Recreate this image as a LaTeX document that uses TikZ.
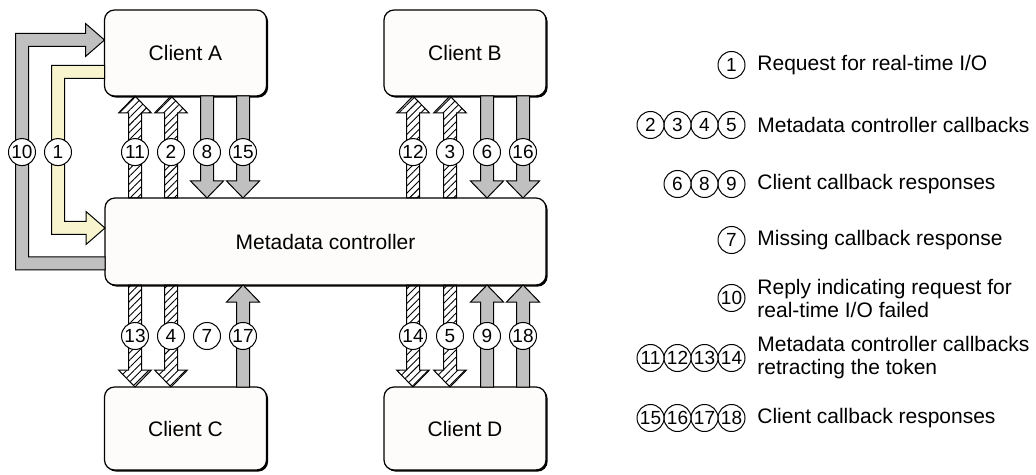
\documentclass[tikz,border=0pt]{standalone}
\usepackage{fontspec}
\setmainfont{Liberation Sans}
\usetikzlibrary{positioning, calc, patterns.meta, shadows}

\definecolor{boxfill}{HTML}{FDFCFA}
\definecolor{arrowgray}{HTML}{C0C0C0}
\definecolor{reqyellow}{HTML}{F7F4CE}

\tikzset{
  box/.style={draw, line width=0.6pt, rounded corners=5pt, fill=boxfill,
    drop shadow={shadow xshift=0.8pt, shadow yshift=-0.8pt, fill=black, opacity=1},
    minimum width=81pt, minimum height=43pt, inner sep=0pt, outer sep=0pt,
    font=\fontsize{10.5}{12}\selectfont},
  num/.style={draw, circle, fill=white, line width=0.5pt, inner sep=0pt, outer sep=0pt,
    minimum size=13.5pt, font=\fontsize{9.5}{9.5}\selectfont},
  legtext/.style={anchor=west, inner sep=0pt, align=left,
    font=\fontsize{10.5}{11.5}\selectfont},
  fatline/.style={draw=black, line width=0.5pt, line join=miter},
  grayarrow/.style={fill=arrowgray},
  hatched/.style={pattern={Lines[angle=45, distance=2.6pt, line width=0.45pt]}},
  yellowarrow/.style={fill=reqyellow},
}

% straight block arrow: #2 base, #3 tip, #4 head offset (17 up, -17 down)
\newcommand{\fatarrow}[4][]{%
  \path[fatline,#1] ($(#2)+(-6.5,0)$) -- ($(#3)+(-6.5,#4)$) -- ($(#3)+(-16.5,#4)$)
    -- (#3) -- ($(#3)+(16.5,#4)$) -- ($(#3)+(6.5,#4)$) -- ($(#2)+(6.5,0)$) -- cycle;}

% bent block arrow round the left side: #2 start, #3 tip, #4 column, #5 = 1 up / -1 down
\newcommand{\bentarrow}[5][]{%
  \path[fatline,#1] ($(#2)+(0,{(#5)*6.5})$) -- ($(#2 -| #4)+(-6.5,{(#5)*6.5})$)
    -- ($(#3 -| #4)+(-6.5,{-(#5)*6.5})$) -- ($(#3)+(-19,{-(#5)*6.5})$)
    -- ($(#3)+(-19,{-(#5)*16.5})$) -- (#3) -- ($(#3)+(-19,{(#5)*16.5})$)
    -- ($(#3)+(-19,{(#5)*6.5})$) -- ($(#3 -| #4)+(6.5,{(#5)*6.5})$)
    -- ($(#2 -| #4)+(6.5,{-(#5)*6.5})$) -- ($(#2)+(0,{-(#5)*6.5})$) -- cycle;}

\begin{document}
\begin{tikzpicture}[x=0.5pt, y=-0.5pt]
  \useasboundingbox (0,0) rectangle (1036,475);

  % clients and controller
  \node[box] (ca) at (185.5,53) {Client A};
  \node[box] (cb) at (465,53) {Client B};
  \node[box, minimum width=220.5pt, minimum height=43.5pt] (md) at (325.5,241.5) {Metadata controller};
  \node[box, minimum height=41.5pt] (cc) at (185.5,428.5) {Client C};
  \node[box, minimum height=41.5pt] (cd) at (465,428.5) {Client D};

  % arrow columns
  \foreach \name/\x in {a1/135, a2/171, a3/207, a4/243, b1/413, b2/450, b3/487, b4/523, lten/22, lone/58}
    \coordinate (\name) at (\x,0);
  \coordinate (midtop) at ($(ca.south)!.55!(md.north)$);
  \coordinate (midbot) at ($(md.south)!.5!(cc.north)$);

  % request and failed reply
  \coordinate (s10) at ($(md.west)+(0,22)$);
  \coordinate (e10) at ($(ca.west)+(0,-13)$);
  \coordinate (s1) at ($(ca.west)+(0,19)$);
  \coordinate (e1) at ($(md.west)+(0,-13.5)$);
  \bentarrow[grayarrow]{s10}{e10}{lten}{1}
  \bentarrow[yellowarrow]{s1}{e1}{lone}{-1}

  % top side
  \fatarrow[hatched]{md.north -| a1}{ca.south -| a1}{17}
  \fatarrow[hatched]{md.north -| a2}{ca.south -| a2}{17}
  \fatarrow[grayarrow]{ca.south -| a3}{md.north -| a3}{-17}
  \fatarrow[grayarrow]{ca.south -| a4}{md.north -| a4}{-17}
  \fatarrow[hatched]{md.north -| b1}{cb.south -| b1}{17}
  \fatarrow[hatched]{md.north -| b2}{cb.south -| b2}{17}
  \fatarrow[grayarrow]{cb.south -| b3}{md.north -| b3}{-17}
  \fatarrow[grayarrow]{cb.south -| b4}{md.north -| b4}{-17}

  % bottom side
  \fatarrow[hatched]{md.south -| a1}{cc.north -| a1}{-17}
  \fatarrow[hatched]{md.south -| a2}{cc.north -| a2}{-17}
  \fatarrow[grayarrow]{cc.north -| a4}{md.south -| a4}{17}
  \fatarrow[hatched]{md.south -| b1}{cd.north -| b1}{-17}
  \fatarrow[hatched]{md.south -| b2}{cd.north -| b2}{-17}
  \fatarrow[grayarrow]{cd.north -| b3}{md.south -| b3}{17}
  \fatarrow[grayarrow]{cd.north -| b4}{md.south -| b4}{17}

  % step numbers
  \node[num] (n10) at (midtop -| lten) {10};
  \node[num] (n1) at (midtop -| lone) {1};
  \node[num] (n11) at (midtop -| a1) {11};
  \node[num] (n2) at (midtop -| a2) {2};
  \node[num] (n8) at (midtop -| a3) {8};
  \node[num] (n15) at (midtop -| a4) {15};
  \node[num] (n12) at (midtop -| b1) {12};
  \node[num] (n3) at (midtop -| b2) {3};
  \node[num] (n6) at (midtop -| b3) {6};
  \node[num] (n16) at (midtop -| b4) {16};
  \node[num] (n13) at (midbot -| a1) {13};
  \node[num] (n4) at (midbot -| a2) {4};
  \node[num] (n7) at (midbot -| a3) {7};
  \node[num] (n17) at (midbot -| a4) {17};
  \node[num] (n14) at (midbot -| b1) {14};
  \node[num] (n5) at (midbot -| b2) {5};
  \node[num] (n9) at (midbot -| b3) {9};
  \node[num] (n18) at (midbot -| b4) {18};

  % legend
  \node[legtext] (t1) at (757,65) {Request for real-time I/O};
  \node[num, left=6pt of t1.west] (key1) {1};

  \node[legtext] (t2) at (757,125) {Metadata controller callbacks};
  \node[num, left=6pt of t2.west] (key5) {5};
  \node[num, left=0pt of key5] (key4) {4};
  \node[num, left=0pt of key4] (key3) {3};
  \node[num, left=0pt of key3] (key2) {2};

  \node[legtext] (t3) at (757,184) {Client callback responses};
  \node[num, left=6pt of t3.west] (key9) {9};
  \node[num, left=0pt of key9] (key8) {8};
  \node[num, left=0pt of key8] (key6) {6};

  \node[legtext] (t4) at (757,240) {Missing callback response};
  \node[num, left=6pt of t4.west] (key7) {7};

  \node[legtext] (t5) at (757,298) {Reply indicating request for\\real-time I/O failed};
  \node[num, left=6pt of t5.west] (key10) {10};

  \node[legtext] (t6) at (757,358) {Metadata controller callbacks\\retracting the token};
  \node[num, left=6pt of t6.west] (key14) {14};
  \node[num, left=0pt of key14] (key13) {13};
  \node[num, left=0pt of key13] (key12) {12};
  \node[num, left=0pt of key12] (key11) {11};

  \node[legtext] (t7) at (757,418) {Client callback responses};
  \node[num, left=6pt of t7.west] (key18) {18};
  \node[num, left=0pt of key18] (key17) {17};
  \node[num, left=0pt of key17] (key16) {16};
  \node[num, left=0pt of key16] (key15) {15};
\end{tikzpicture}
\end{document}
